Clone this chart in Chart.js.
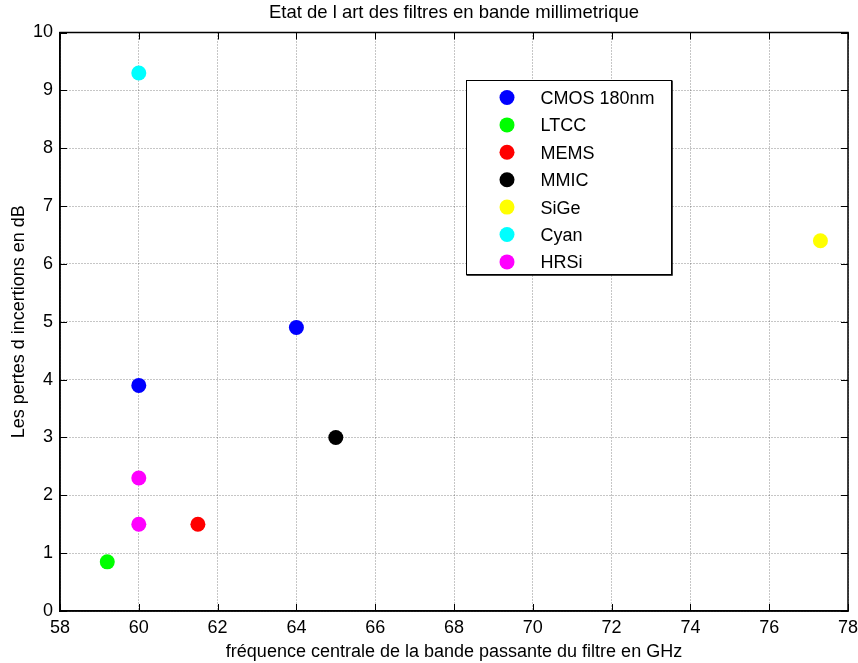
<!DOCTYPE html>
<html>
<head>
<meta charset="utf-8">
<script src="https://cdn.jsdelivr.net/npm/chart.js@4/dist/chart.umd.min.js"></script>
<style>
  html, body { margin: 0; padding: 0; background: #fff; }
  #wrap { width: 858px; height: 663px; position: relative; }
</style>
</head>
<body>
<div id="wrap"><canvas id="c" width="858" height="663"></canvas></div>
<script>
// ---- Data ----
const seriesNames = ["CMOS 180nm", "LTCC", "MEMS", "MMIC", "SiGe", "Cyan", "HRSi"];
const seriesColors = ["#0000ff", "#00ff00", "#ff0000", "#000000", "#ffff00", "#00ffff", "#ff00ff"];
const cmosX = [60, 64];     const cmosY = [3.9, 4.9];
const ltccX = [59.2];       const ltccY = [0.85];
const memsX = [61.5];       const memsY = [1.5];
const mmicX = [65];         const mmicY = [3.0];
const sigeX = [77.3];       const sigeY = [6.4];
const cyanX = [60];         const cyanY = [9.3];
const hrsiX = [60, 60];     const hrsiY = [2.3, 1.5];
const xTicks = [58, 60, 62, 64, 66, 68, 70, 72, 74, 76, 78];
const yTicks = [0, 1, 2, 3, 4, 5, 6, 7, 8, 9, 10];

const titleText = "Etat de l art des filtres en bande millimetrique";
const xTitle = "fréquence centrale de la bande passante du filtre en GHz";
const yTitle = "Les pertes d incertions en dB";

const allX = [cmosX, ltccX, memsX, mmicX, sigeX, cyanX, hrsiX];
const allY = [cmosY, ltccY, memsY, mmicY, sigeY, cyanY, hrsiY];

const FONT = "Liberation Sans, Arial, Helvetica, sans-serif";
const FS = 18;

const datasets = seriesNames.map((name, i) => ({
  label: name,
  data: allX[i].map((x, j) => ({ x: x, y: allY[i][j] })),
  backgroundColor: seriesColors[i],
  borderColor: seriesColors[i],
  borderWidth: 0,
  pointRadius: 7.5,
  pointHoverRadius: 7.5,
  showLine: false
}));

// Title over plot area, box + inward ticks + legend
const matlabPlugin = {
  id: 'matlab',
  afterDraw(chart) {
    const ctx = chart.ctx;
    const a = chart.chartArea;
    const xs = chart.scales.x, ys = chart.scales.y;
    ctx.save();
    // title centred on the plot area
    ctx.fillStyle = '#000';
    ctx.font = "18.5px " + FONT;
    ctx.textAlign = 'center';
    ctx.textBaseline = 'middle';
    ctx.fillText(titleText, (a.left + a.right) / 2, 12.5);

    ctx.strokeStyle = '#000';
    ctx.lineWidth = 1;
    const L = 7;
    ctx.beginPath();
    xTicks.forEach(v => {
      const px = Math.round(xs.getPixelForValue(v)) + 0.5;
      ctx.moveTo(px, a.bottom); ctx.lineTo(px, a.bottom - L);
      ctx.moveTo(px, a.top); ctx.lineTo(px, a.top + L);
    });
    yTicks.forEach(v => {
      const py = Math.round(ys.getPixelForValue(v)) + 0.5;
      ctx.moveTo(a.left, py); ctx.lineTo(a.left + L, py);
      ctx.moveTo(a.right, py); ctx.lineTo(a.right - L, py);
    });
    ctx.stroke();
    // box
    ctx.lineWidth = 1.5;
    ctx.strokeRect(a.left, a.top, a.right - a.left, a.bottom - a.top);

    // legend
    const lx = 466.5, ly = 80.5, lw = 205, lh = 194;
    ctx.fillStyle = '#fff';
    ctx.fillRect(lx, ly, lw, lh);
    ctx.lineWidth = 1;
    ctx.strokeRect(lx, ly, lw, lh);
    ctx.lineWidth = 1.5;
    ctx.beginPath();
    ctx.moveTo(lx + lw + 0.5, ly); ctx.lineTo(lx + lw + 0.5, ly + lh + 0.5);
    ctx.lineTo(lx, ly + lh + 0.5);
    ctx.stroke();
    ctx.font = FS + "px " + FONT;
    ctx.textBaseline = 'middle';
    ctx.textAlign = 'left';
    chart.data.datasets.forEach((ds, i) => {
      const cy = 97.5 + i * 27.4;
      ctx.fillStyle = ds.backgroundColor;
      ctx.beginPath();
      ctx.arc(507, cy, 7.5, 0, Math.PI * 2);
      ctx.fill();
      ctx.fillStyle = '#000';
      ctx.fillText(ds.label, 540.5, cy + 1.5);
    });
    ctx.restore();
  }
};

new Chart(document.getElementById('c'), {
  type: 'scatter',
  data: { datasets: datasets },
  options: {
    responsive: false,
    animation: false,
    devicePixelRatio: 1,
    layout: { padding: { left: 0, right: 10, top: 32.5, bottom: 0 } },
    plugins: {
      legend: { display: false },
      tooltip: { enabled: false },
      title: { display: false }
    },
    scales: {
      x: {
        type: 'linear',
        min: 58, max: 78,
        afterBuildTicks: s => { s.ticks = xTicks.map(v => ({ value: v })); },
        afterFit: s => { s.height = 52; s.paddingLeft = 0; s.paddingRight = 0; },
        grid: { color: 'rgba(0,0,0,0.45)', lineWidth: 1, drawTicks: false },
        border: { display: true, color: '#000', width: 1.5, dash: [1, 2] },
        ticks: { color: '#000', font: { family: FONT, size: FS }, padding: 6.5, maxRotation: 0 },
        title: {
          display: true, text: xTitle, color: '#000',
          font: { family: FONT, size: FS }, padding: { top: 0, bottom: 0 }
        }
      },
      y: {
        type: 'linear',
        min: 0, max: 10,
        afterBuildTicks: s => { s.ticks = yTicks.map(v => ({ value: v })); },
        afterFit: s => { s.width = 60; s.paddingTop = 0; s.paddingBottom = 0; },
        grid: { color: 'rgba(0,0,0,0.45)', lineWidth: 1, drawTicks: false },
        border: { display: true, color: '#000', width: 1.5, dash: [1, 2] },
        ticks: { color: '#000', font: { family: FONT, size: FS }, padding: 7 },
        title: {
          display: true, text: yTitle, color: '#000',
          font: { family: FONT, size: FS }, padding: { top: 8, bottom: 0 }
        }
      }
    }
  },
  plugins: [matlabPlugin]
});
</script>
</body>
</html>
